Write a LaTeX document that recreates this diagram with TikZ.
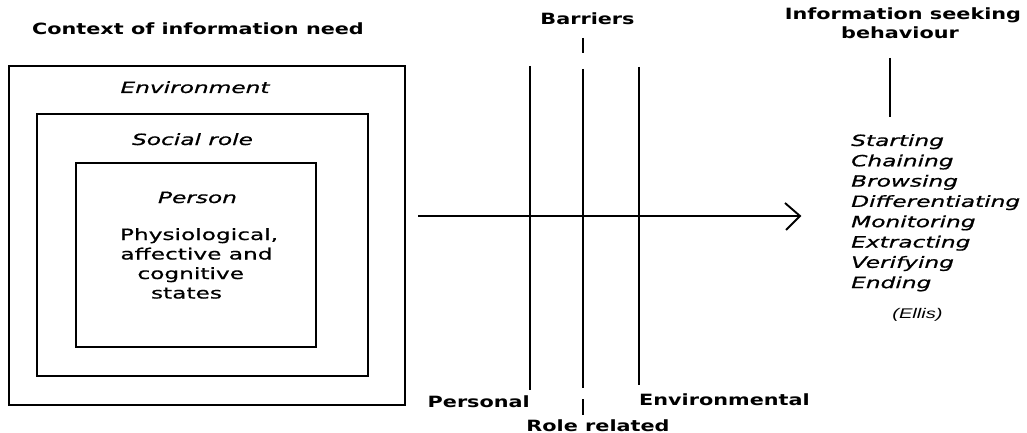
\documentclass[tikz,border=0pt]{standalone}
\usepackage{fontspec}
\setmainfont{DejaVu Sans}
\newfontfamily\bfam[FakeStretch=1.34]{DejaVu Sans}
\newfontfamily\rfam[FakeStretch=1.5,FakeBold=0.7]{DejaVu Sans}
\newfontfamily\afam[FakeStretch=1.44]{Liberation Sans}
\begin{document}
\begin{tikzpicture}[x=1pt,y=-1pt,
  box/.style={draw,line width=2.6pt},
  bar/.style={line width=2.6pt},
  head/.style={font=\bfam\fontsize{15.5}{19}\selectfont\bfseries,inner sep=0pt,anchor=base},
  lab/.style={font=\rfam\fontsize{15.5}{19}\selectfont\itshape,inner sep=0pt,anchor=base},
  txt/.style={font=\rfam\fontsize{15.5}{19}\selectfont,inner sep=0pt,anchor=base},
  lst/.style={font=\rfam\fontsize{15.5}{19}\selectfont\itshape,inner sep=0pt,anchor=base west}]
\useasboundingbox (0,0) rectangle (1027,433);
% boxes
\draw[box] (9,66) rectangle (405,405);
\draw[box] (37,114) rectangle (368,376);
\draw[box] (76,163) rectangle (316,347);
\node[head] (ctx) at (198,35) {Context of information need};
\node[lab] (env) at (195,93) {Environment};
\node[lab] (soc) at (192.5,145) {Social role};
\node[lab] (per) at (197.5,203) {Person};
\node[txt] (st1) at (199,240) {Physiological,};
\node[txt] (st2) at (196.5,259.5) {affective and};
\node[txt] (st3) at (190.7,279) {cognitive};
\node[txt] (st4) at (186.5,298.5) {states};
% barriers
\node[head] (barr) at (587.5,25) {Barriers};
\coordinate (bt1) at (583,38); \coordinate (bt2) at (583,53);
\draw[bar] (bt1) -- (bt2);
\coordinate (p1) at (530,66); \coordinate (p2) at (530,390);
\coordinate (r1) at (583,69); \coordinate (r2) at (583,388);
\coordinate (e1) at (639,67); \coordinate (e2) at (639,385);
\draw[bar] (p1) -- (p2);
\draw[bar] (r1) -- (r2);
\draw[bar] (e1) -- (e2);
\coordinate (rt1) at (583,399); \coordinate (rt2) at (583,415);
\draw[bar] (rt1) -- (rt2);
\node[head,anchor=base east] (pers) at (530,407) {Personal};
\node[head] (role) at (598,431) {Role related};
\node[head,anchor=base west] (envl) at (639,405) {Environmental};
% arrow
\coordinate (a1) at (418,216);
\coordinate (a2) at (800,216);
\draw[line width=1.9pt] (a1) -- (a2);
\draw[line width=1.9pt,line join=miter] (785,203) -- (a2) -- (786,230);
% information seeking behaviour
\node[head] (isb1) at (903,20) {Information seeking};
\node[head] (isb2) at (900,39) {behaviour};
\coordinate (v1) at (890,58); \coordinate (v2) at (890,117);
\draw[bar] (v1) -- (v2);
\foreach \w [count=\i from 0] in {Starting,Chaining,Browsing,Differentiating,Monitoring,Extracting,Verifying,Ending}
  \node[lst] (li\i) at (851,146+20.3*\i) {\w};
\node[font=\afam\fontsize{14}{16}\selectfont\itshape,inner sep=0pt,anchor=base] (ellis) at (917.5,318) {(Ellis)};
\end{tikzpicture}
\end{document}
